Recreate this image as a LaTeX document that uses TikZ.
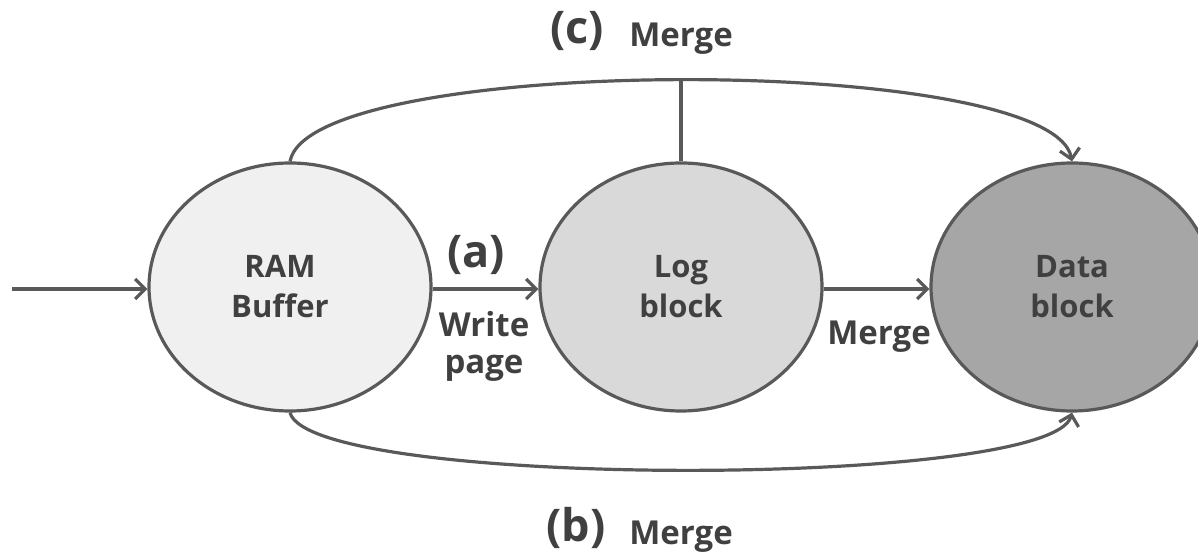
\documentclass[tikz,border=0pt]{standalone}
\usepackage{fontspec}
\setmainfont{Open Sans}[BoldFont={* Bold}]
\usetikzlibrary{shapes.geometric,arrows.meta}
\definecolor{stroke}{HTML}{595959}
\definecolor{txt}{HTML}{404040}
\definecolor{ramfill}{HTML}{F0F0F0}
\definecolor{logfill}{HTML}{D9D9D9}
\definecolor{datafill}{HTML}{A6A6A6}
\tikzset{
  blob/.style={ellipse, draw=stroke, line width=3.2pt, minimum width=282pt, minimum height=248pt, inner sep=0pt,
    text=txt, align=center, font=\bfseries\fontsize{31}{40}\selectfont},
  blobtext/.style={text=txt, align=center, inner sep=0pt, font=\bfseries\fontsize{31}{40}\selectfont},
  conn/.style={draw=stroke, line width=3.2pt, -{Straight Barb[length=10pt,width=20pt,line width=3.2pt]}},
  plain/.style={draw=stroke, line width=3.2pt},
  lbl/.style={text=txt, font=\bfseries\fontsize{33}{40}\selectfont, inner sep=0pt, anchor=base},
  tag/.style={text=txt, font=\bfseries\fontsize{45}{54}\selectfont, inner sep=0pt, anchor=base}
}
\begin{document}
\begin{tikzpicture}[x=1pt,y=1pt]
\useasboundingbox (0,0) rectangle (1198,556);
\node[blob, fill=ramfill] (ram) at (290,269) {};
\node[blobtext] (ramtxt) at ([xshift=-10pt]ram.center) {RAM\\Buffer};
\node[blob, fill=logfill] (log) at (681,269) {Log\\block};
\node[blob, fill=datafill] (data) at (1072,269) {Data\\block};
\coordinate (in) at (12,267);
\draw[conn] (in) -- (ram.west |- in);
\draw[conn] (ram.east |- in) -- (log.west |- in);
\draw[conn] (log.east |- in) -- (data.west |- in);
\draw[conn] (ram.north) .. controls (310,503) and (1052,503) .. (data.north) coordinate[pos=0.5] (ctop);
\draw[plain] (log.north) -- (log.north |- ctop);
\draw[conn] (ram.south) .. controls (310,67) and (1052,67) .. (data.south);
\node[tag] (ta) at (476,288) {(a)};
\node[lbl] (w1) at (484,219) {Write};
\node[lbl] (w2) at (484,182) {page};
\node[lbl] (m1) at (879,211) {Merge};
\node[tag] (tc) at (577,512) {(c)};
\node[lbl] (m2) at (681,509) {Merge};
\node[tag] (tb) at (576,14) {(b)};
\node[lbl] (m3) at (681,11) {Merge};
\end{tikzpicture}
\end{document}
